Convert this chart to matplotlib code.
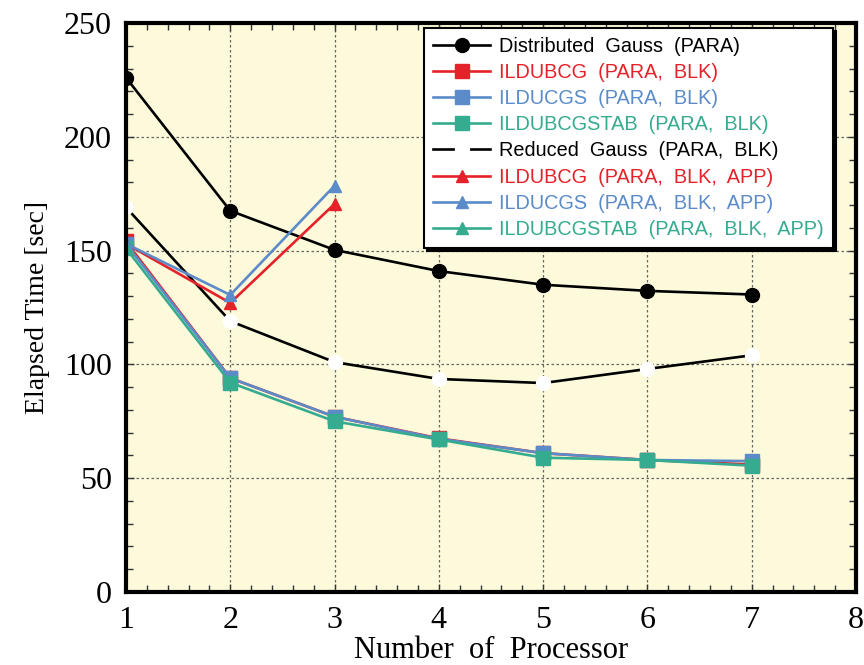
import matplotlib
matplotlib.use("Agg")
import matplotlib.pyplot as plt
from matplotlib.ticker import MultipleLocator

procs = [1, 2, 3, 4, 5, 6, 7]
dist_gauss = [226, 167.5, 150.3, 141, 135, 132.3, 130.7]
reduced_gauss = [169, 119, 101, 93.6, 91.8, 98, 104]
ildubcg_blk = [154, 94, 77, 67.5, 61, 58, 56]
ilducgs_blk = [153, 94, 77, 67.3, 61, 58, 57.5]
ildubcgstab_blk = [151, 92, 75, 67, 59, 58, 55.5]
app_procs = [1, 2, 3]
ildubcg_app = [153, 127, 170.5]
ilducgs_app = [153, 130.5, 178.5]
stab_app_procs = [1]
ildubcgstab_app = [151]

labels = ["Distributed  Gauss  (PARA)",
          "ILDUBCG  (PARA,  BLK)",
          "ILDUCGS  (PARA,  BLK)",
          "ILDUBCGSTAB  (PARA,  BLK)",
          "Reduced  Gauss  (PARA,  BLK)",
          "ILDUBCG  (PARA,  BLK,  APP)",
          "ILDUCGS  (PARA,  BLK,  APP)",
          "ILDUBCGSTAB  (PARA,  BLK,  APP)"]

RED = "#e52229"
BLUE = "#5b8bc9"
GREEN = "#35ab8f"

fig = plt.figure(figsize=(8.64, 6.65), dpi=100)
ax = fig.add_axes([0.1458, 0.1098, 0.845, 0.8556])
ax.set_facecolor("#fdf9db")

lw = 1.9
h = []
h += ax.plot(procs, dist_gauss, color="black", lw=lw, marker="o", ms=10, zorder=3)
h += ax.plot(procs, ildubcg_blk, color=RED, lw=lw, marker="s", ms=10, zorder=3)
h += ax.plot(procs, ilducgs_blk, color=BLUE, lw=lw, marker="s", ms=10, zorder=3)
h += ax.plot(procs, ildubcgstab_blk, color=GREEN, lw=lw, marker="s", ms=10, zorder=3)
h += ax.plot(procs, reduced_gauss, color="black", lw=lw, marker="o", ms=10,
             mfc="white", mec="white", zorder=3)
h += ax.plot(app_procs, ildubcg_app, color=RED, lw=lw, marker="^", ms=9, zorder=4)
h += ax.plot(app_procs, ilducgs_app, color=BLUE, lw=lw, marker="^", ms=9, zorder=4)
h += ax.plot(stab_app_procs, ildubcgstab_app, color=GREEN, lw=lw, marker="^", ms=9, zorder=4)

ax.set_xlim(1, 8)
ax.set_ylim(0, 250)
ax.xaxis.set_major_locator(MultipleLocator(1))
ax.xaxis.set_minor_locator(MultipleLocator(0.2))
ax.yaxis.set_major_locator(MultipleLocator(50))
ax.yaxis.set_minor_locator(MultipleLocator(10))
ax.tick_params(which="both", direction="in", top=True, right=True, color="#333333")
ax.tick_params(which="major", length=6, width=1, pad=10)
ax.tick_params(which="minor", length=5, width=1)
ax.grid(True, which="major", color="#666666", ls=(0, (2, 2)), lw=0.9, zorder=1)

for s in ax.spines.values():
    s.set_linewidth(3)
    s.set_zorder(5)

serif = ["Liberation Serif", "DejaVu Serif"]
for t in ax.get_xticklabels() + ax.get_yticklabels():
    t.set_fontfamily(serif)
    t.set_fontsize(23)
ax.set_xlabel("Number  of  Processor", fontfamily=serif, fontsize=22, labelpad=1)
ax.set_ylabel("Elapsed Time [sec]", fontfamily=serif, fontsize=20, labelpad=10)

leg = ax.legend(h, labels, loc="upper right", bbox_to_anchor=(0.982, 1.009),
                prop={"family": ["Liberation Sans", "DejaVu Sans"], "size": 14.3},
                handlelength=2.9, labelspacing=0.36, handletextpad=0.45,
                borderpad=0.45, fancybox=False, shadow={"color": "black", "alpha": 1},
                framealpha=1, edgecolor="black")
leg.get_frame().set_linewidth(1.5)
cols = ["black", RED, BLUE, GREEN, "black", RED, BLUE, GREEN]
for t, c in zip(leg.get_texts(), cols):
    t.set_color(c)
leg.set_zorder(10)

fig.savefig("out.png", dpi=100)
